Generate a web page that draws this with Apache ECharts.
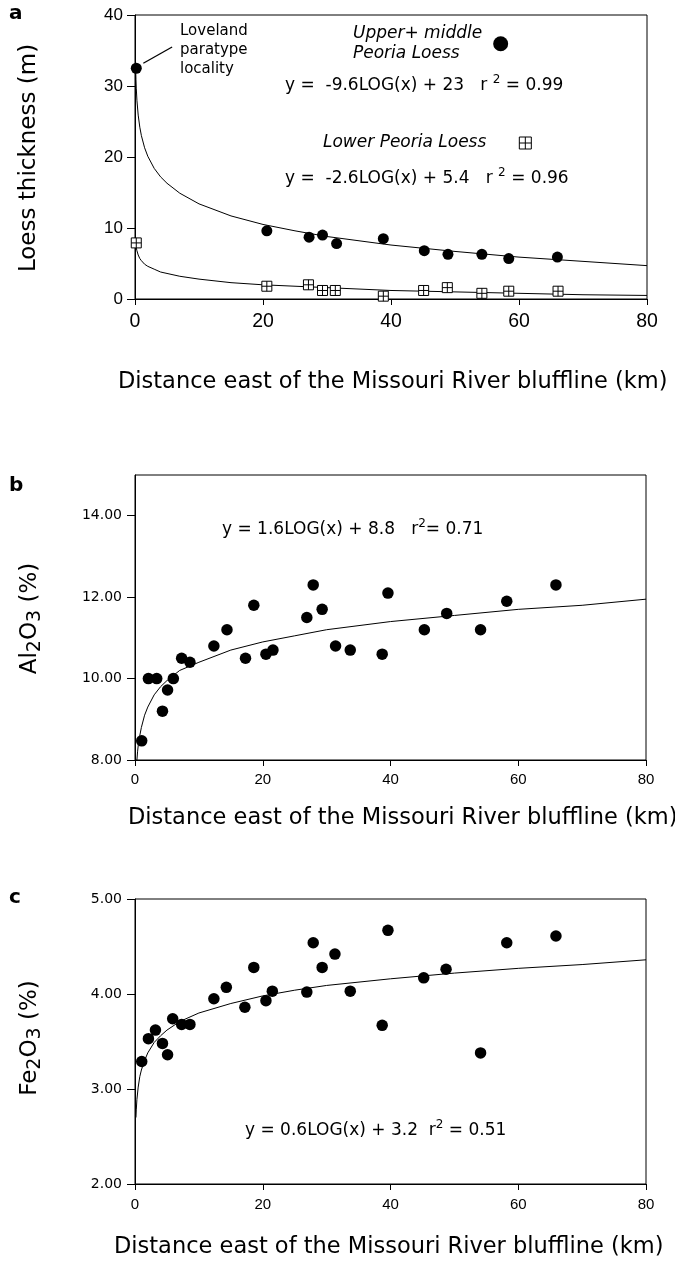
<!DOCTYPE html>
<html><head><meta charset="utf-8">
<script src="https://cdn.jsdelivr.net/npm/echarts@6/dist/echarts.min.js"></script>
<style>html,body{margin:0;padding:0;background:#fff}#c{width:675px;height:1275px}</style>
</head><body><div id="c"></div>
<script>
// ---------- data ----------
const xTicks = [0, 20, 40, 60, 80];
const aYTicks = [0, 10, 20, 30, 40];
const bYTicks = [8, 10, 12, 14];
const cYTicks = [2, 3, 4, 5];

// panel a: loess thickness (m)
const upperX = [0.2, 20.6, 27.2, 29.3, 31.5, 38.8, 45.2, 48.9, 54.2, 58.4, 66.0];
const upperY = [32.5, 9.6, 8.7, 9.0, 7.8, 8.5, 6.8, 6.3, 6.3, 5.7, 5.9];
const lowerX = [0.2, 20.6, 27.1, 29.3, 31.3, 38.8, 45.1, 48.8, 54.2, 58.4, 66.1];
const lowerY = [7.9, 1.8, 2.0, 1.2, 1.2, 0.4, 1.2, 1.6, 0.8, 1.1, 1.1];
const fitAX = [0.1, 0.15, 0.2, 0.3, 0.5, 0.75, 1, 1.5, 2, 3, 4, 5, 7, 10, 15, 20, 25, 30, 40, 50, 60, 70, 80];
const fitUpperY = [32.6, 30.9, 29.7, 28.0, 25.9, 24.2, 23.0, 21.3, 20.1, 18.4, 17.2, 16.3, 14.9, 13.4, 11.7, 10.5, 9.6, 8.8, 7.6, 6.7, 5.9, 5.3, 4.7];
const fitLowerY = [8.0, 7.5, 7.2, 6.8, 6.2, 5.7, 5.4, 4.9, 4.6, 4.2, 3.8, 3.6, 3.2, 2.8, 2.3, 2.0, 1.8, 1.6, 1.2, 1.0, 0.8, 0.6, 0.5];
const arrowFrom = [5.8, 35.5];
const arrowTo = [1.3, 33.2];

// panel b: Al2O3 (%)
const alX = [1.05, 2.1, 3.4, 4.3, 5.1, 6.0, 7.3, 8.6, 12.35, 14.4, 17.3, 18.6, 20.5, 21.6, 26.9, 27.9, 29.3, 31.4, 33.7, 38.7, 39.6, 45.3, 48.8, 54.1, 58.2, 65.9];
const alY = [8.47, 10.0, 10.0, 9.2, 9.72, 10.0, 10.5, 10.4, 10.8, 11.2, 10.5, 11.8, 10.6, 10.7, 11.5, 12.3, 11.7, 10.8, 10.7, 10.6, 12.1, 11.2, 11.6, 11.2, 11.9, 12.3];
const fitBX = [0.3, 0.4, 0.5, 0.75, 1, 1.5, 2, 3, 4, 5, 7, 10, 15, 20, 25, 30, 40, 50, 60, 70, 80];
const fitBY = [8.0, 8.2, 8.35, 8.6, 8.8, 9.1, 9.3, 9.6, 9.8, 9.95, 10.2, 10.4, 10.7, 10.9, 11.05, 11.2, 11.4, 11.55, 11.7, 11.8, 11.95];

// panel c: Fe2O3 (%)
const feX = [1.05, 2.1, 3.2, 4.3, 5.1, 5.9, 7.3, 8.6, 12.35, 14.3, 17.2, 18.6, 20.5, 21.5, 26.9, 27.9, 29.3, 31.3, 33.7, 38.7, 39.6, 45.2, 48.7, 54.1, 58.2, 65.9];
const feY = [3.29, 3.53, 3.62, 3.48, 3.36, 3.74, 3.68, 3.68, 3.95, 4.07, 3.86, 4.28, 3.93, 4.03, 4.02, 4.54, 4.28, 4.42, 4.03, 3.67, 4.67, 4.17, 4.26, 3.38, 4.54, 4.61];
const fitCX = [0.15, 0.2, 0.3, 0.5, 0.75, 1, 1.5, 2, 3, 4, 5, 7, 10, 15, 20, 25, 30, 40, 50, 60, 70, 80];
const fitCY = [2.7, 2.78, 2.89, 3.02, 3.13, 3.2, 3.3, 3.38, 3.49, 3.56, 3.62, 3.71, 3.8, 3.9, 3.98, 4.04, 4.09, 4.16, 4.22, 4.27, 4.31, 4.36];

const upperName = 'Upper+ middle Peoria Loess';
const lowerName = 'Lower Peoria Loess';
const xTitle = 'Distance east of the Missouri River bluffline (km)';

// ---------- styling ----------
const DV = 'DejaVu Sans';
const LS = 'Liberation Sans, Arial, sans-serif';
const boxIcon = 'path://M0,0L10,0L10,10L0,10Z M5,0L5,10 M0,5L10,5';
const pairs = (xs, ys) => xs.map((x, i) => [x, ys[i]]);

function xAxis(gi, font, size, margin) {
  return {
    gridIndex: gi, type: 'value', min: 0, max: 80, interval: 20,
    axisLine: { show: true, onZero: false, lineStyle: { color: '#000', width: 1 } },
    axisTick: { show: true, inside: false, length: 6, lineStyle: { color: '#000', width: 1 }, customValues: xTicks },
    axisLabel: { color: '#000', fontFamily: font, fontSize: size, margin: margin, customValues: xTicks },
    splitLine: { show: false }
  };
}
function yAxis(gi, min, max, ticks, font, size, margin, fmt) {
  return {
    gridIndex: gi, type: 'value', min: min, max: max,
    axisLine: { show: true, onZero: false, lineStyle: { color: '#000', width: 1 } },
    axisTick: { show: true, inside: false, length: 8, lineStyle: { color: '#000', width: 1 }, customValues: ticks },
    axisLabel: { color: '#000', fontFamily: font, fontSize: size, margin: margin, customValues: ticks, formatter: fmt },
    splitLine: { show: false }
  };
}
const gridBase = { show: true, borderColor: '#000', borderWidth: 1, backgroundColor: 'transparent', containLabel: false, outerBoundsMode: 'none' };

function eq(x, y, pre, post) {
  return {
    type: 'text', x: x, y: y, silent: true,
    style: {
      text: '{t|' + pre + '}{p|2}{t|' + post + '}',
      align: 'left', verticalAlign: 'middle',
      rich: {
        t: { fontFamily: DV, fontSize: 17, lineHeight: 24, fill: '#000' },
        p: { fontFamily: DV, fontSize: 12, lineHeight: 12, verticalAlign: 'top', fill: '#000' }
      }
    }
  };
}
function plain(x, y, text, opts) {
  return { type: 'text', x: x, y: y, silent: true, rotation: opts.rotation || 0,
    style: Object.assign({ text: text, fill: '#000', align: 'left', verticalAlign: 'middle' }, opts.style) };
}
function chemTitle(x, y, el) {
  return {
    type: 'text', x: x, y: y, rotation: Math.PI / 2, silent: true,
    style: {
      text: '{a|' + el + '}{s|2}{a|O}{s|3}{a| (%)}',
      align: 'center', verticalAlign: 'middle',
      rich: {
        a: { fontFamily: DV, fontSize: 23, lineHeight: 30, fill: '#000' },
        s: { fontFamily: DV, fontSize: 19, lineHeight: 19, verticalAlign: 'bottom', fill: '#000' }
      }
    }
  };
}
const legText = { fontFamily: DV, fontStyle: 'italic', fontSize: 17, color: '#000', align: 'left' };

const option = {
  backgroundColor: '#fff',
  animation: false,
  grid: [
    Object.assign({ left: 135, top: 15, width: 512, height: 284 }, gridBase),
    Object.assign({ left: 135, top: 475, width: 511, height: 285 }, gridBase),
    Object.assign({ left: 135, top: 899, width: 511, height: 285 }, gridBase)
  ],
  xAxis: [xAxis(0, LS, 19.5, 13), xAxis(1, LS, 15, 12), xAxis(2, LS, 15, 13)],
  yAxis: [
    yAxis(0, 0, 40, aYTicks, LS, 17, 12, v => String(v)),
    yAxis(1, 8, 15, bYTicks, DV, 14, 13, v => v.toFixed(2)),
    yAxis(2, 2, 5, cYTicks, DV, 14, 13, v => v.toFixed(2))
  ],
  legend: [
    {
      data: [upperName], left: 353, top: 23, orient: 'vertical', align: 'right', padding: 0,
      icon: 'circle', itemWidth: 15, itemHeight: 15, selectedMode: false,
      formatter: () => '{w|Upper+ middle}\n{w|Peoria Loess}',
      itemStyle: { color: '#000', borderWidth: 0, opacity: 1 },
      textStyle: { fontFamily: DV, fontStyle: 'italic', fontSize: 17, lineHeight: 20.7, color: '#000', padding: [0, 6, 0, 0],
        rich: { w: Object.assign({ lineHeight: 20.7 }, legText) } }
    },
    {
      data: [lowerName], left: 323, top: 133, orient: 'vertical', align: 'right', padding: 0,
      icon: boxIcon, itemWidth: 12, itemHeight: 12, selectedMode: false,
      itemStyle: { color: '#fff', borderColor: '#000', borderWidth: 1, opacity: 1 },
      textStyle: { fontFamily: DV, fontStyle: 'italic', fontSize: 17, lineHeight: 20, color: '#000', padding: [0, 28, 0, 0] }
    }
  ],
  series: [
    { type: 'line', name: 'fitUpper', xAxisIndex: 0, yAxisIndex: 0, data: pairs(fitAX, fitUpperY), showSymbol: false, silent: true, z: 1,
      lineStyle: { color: '#000', width: 1 } },
    { type: 'line', name: 'fitLower', xAxisIndex: 0, yAxisIndex: 0, data: pairs(fitAX, fitLowerY), showSymbol: false, silent: true, z: 1,
      lineStyle: { color: '#000', width: 1 } },
    { type: 'scatter', name: upperName, xAxisIndex: 0, yAxisIndex: 0, data: pairs(upperX, upperY), symbol: 'circle', symbolSize: 11, z: 3,
      itemStyle: { color: '#000', opacity: 1 },
      markLine: { silent: true, animation: false, symbol: ['none', 'arrow'], symbolSize: [0, 11], label: { show: false },
        lineStyle: { color: '#000', width: 1.3, type: 'solid', opacity: 1 },
        emphasis: { disabled: true },
        data: [[{ coord: arrowFrom }, { coord: arrowTo }]] } },
    { type: 'scatter', name: lowerName, xAxisIndex: 0, yAxisIndex: 0, data: pairs(lowerX, lowerY), symbol: boxIcon, symbolSize: 10, z: 3,
      itemStyle: { color: '#fff', borderColor: '#000', borderWidth: 1, opacity: 1 } },
    { type: 'line', name: 'fitAl', xAxisIndex: 1, yAxisIndex: 1, data: pairs(fitBX, fitBY), showSymbol: false, silent: true, z: 1,
      lineStyle: { color: '#000', width: 1 } },
    { type: 'scatter', name: 'Al2O3', xAxisIndex: 1, yAxisIndex: 1, data: pairs(alX, alY), symbol: 'circle', symbolSize: 11.5, z: 3,
      itemStyle: { color: '#000', opacity: 1 } },
    { type: 'line', name: 'fitFe', xAxisIndex: 2, yAxisIndex: 2, data: pairs(fitCX, fitCY), showSymbol: false, silent: true, z: 1,
      lineStyle: { color: '#000', width: 1 } },
    { type: 'scatter', name: 'Fe2O3', xAxisIndex: 2, yAxisIndex: 2, data: pairs(feX, feY), symbol: 'circle', symbolSize: 11.5, z: 3,
      itemStyle: { color: '#000', opacity: 1 } }
  ],
  graphic: [
    plain(9, 14, 'a', { style: { fontFamily: DV, fontWeight: 'bold', fontSize: 20 } }),
    plain(9, 486, 'b', { style: { fontFamily: DV, fontWeight: 'bold', fontSize: 20 } }),
    plain(9, 898, 'c', { style: { fontFamily: DV, fontWeight: 'bold', fontSize: 20 } }),
    plain(180, 50.2, 'Loveland\nparatype\nlocality', { style: { fontFamily: DV, fontSize: 15, lineHeight: 18.7 } }),
    eq(285, 85.7, 'y =  -9.6LOG(x) + 23   r ', ' = 0.99'),
    eq(285, 179, 'y =  -2.6LOG(x) + 5.4   r ', ' = 0.96'),
    eq(222, 530, 'y = 1.6LOG(x) + 8.8   r', '= 0.71'),
    eq(245, 1130.7, 'y = 0.6LOG(x) + 3.2  r', ' = 0.51'),
    plain(29, 158, 'Loess thickness (m)', { rotation: Math.PI / 2, style: { fontFamily: DV, fontSize: 23, align: 'center' } }),
    chemTitle(30, 618.5, 'Al'),
    chemTitle(30, 1038, 'Fe'),
    plain(118, 382, xTitle, { style: { fontFamily: DV, fontSize: 22.5 } }),
    plain(128, 818, xTitle, { style: { fontFamily: DV, fontSize: 22.5 } }),
    plain(114, 1247, xTitle, { style: { fontFamily: DV, fontSize: 22.5 } })
  ]
};

const chart = echarts.init(document.getElementById('c'), null, { renderer: 'canvas', width: 675, height: 1275 });
chart.setOption(option);
</script></body></html>
